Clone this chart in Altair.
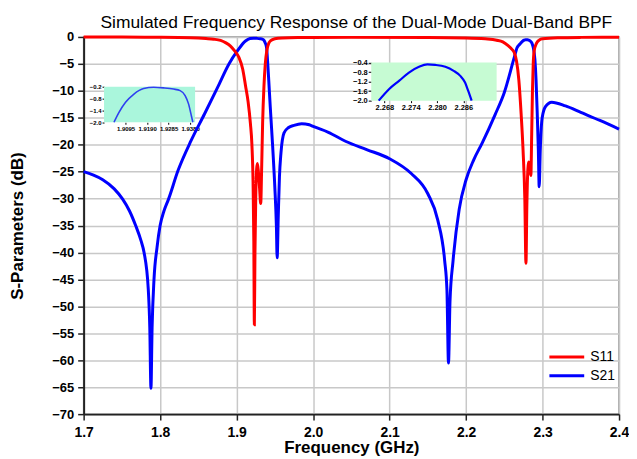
import altair as alt
import pandas as pd

# ---------------- data ----------------
s21_freq = [1.700, 1.712, 1.725, 1.740, 1.751, 1.760, 1.768, 1.775, 1.779, 1.7845, 1.7865, 1.788, 1.7895,
            1.792, 1.796, 1.800, 1.805, 1.811, 1.8234, 1.8406, 1.858, 1.875, 1.890, 1.901, 1.9116,
            1.9175, 1.922, 1.9263, 1.9307, 1.9336, 1.9358, 1.9373, 1.9392, 1.9405, 1.942, 1.944,
            1.947, 1.950, 1.952, 1.953, 1.9545, 1.956, 1.958, 1.962, 1.968, 1.975, 1.985, 1.995,
            2.000, 2.020, 2.043, 2.070, 2.100, 2.128, 2.150, 2.163, 2.172, 2.175, 2.177, 2.179,
            2.183, 2.191, 2.200, 2.210, 2.221, 2.238, 2.250, 2.263, 2.2667, 2.2691, 2.2714, 2.2736,
            2.2759, 2.2778, 2.2796, 2.2819, 2.2838, 2.2853, 2.2864, 2.2871, 2.2879, 2.290, 2.2915,
            2.293, 2.2945, 2.2956, 2.297, 2.2995, 2.304, 2.312, 2.330, 2.350, 2.375, 2.400]
s21_db = [-25.0, -25.6, -26.5, -28.2, -30.1, -32.3, -35.0, -37.8, -40.0, -46.8, -54.0, -65.2, -54.0,
          -45.0, -39.0, -35.0, -32.3, -30.1, -24.8, -19.2, -14.3, -9.4, -5.0, -2.6, -0.75,
          -0.29, -0.23, -0.26, -0.32, -0.40, -0.65, -1.07, -2.0, -4.5, -8.0, -13.0,
          -20.0, -28.0, -35.0, -41.0, -33.0, -26.0, -21.5, -17.8, -16.8, -16.4, -16.1, -16.3,
          -16.6, -17.7, -19.4, -20.9, -22.6, -25.3, -29.1, -34.0, -41.5, -47.0, -60.5, -49.0,
          -41.5, -32.0, -26.5, -22.8, -19.7, -14.4, -10.3, -3.8, -2.0, -1.51, -1.16, -0.82,
          -0.58, -0.50, -0.52, -0.58, -0.75, -0.96, -1.24, -1.58, -2.0, -4.2, -8.0,
          -14.0, -21.0, -27.8, -21.0, -15.0, -12.9, -12.1, -12.8, -14.0, -15.5, -17.1]

s11_freq = [1.700, 1.750, 1.800, 1.840, 1.860, 1.870, 1.879, 1.886, 1.892, 1.898, 1.903, 1.908,
            1.9116, 1.915, 1.918, 1.920, 1.9215, 1.9225, 1.9232, 1.924, 1.925, 1.9262, 1.9272,
            1.9285, 1.930, 1.9315, 1.9328, 1.934, 1.9358, 1.9375, 1.9395, 1.942, 1.9446, 1.950,
            1.960, 1.980, 2.050, 2.150, 2.200, 2.225, 2.240, 2.248, 2.255, 2.260, 2.263, 2.266,
            2.269, 2.272, 2.2745, 2.2768, 2.2783, 2.2795, 2.2808, 2.2818, 2.2832, 2.2847, 2.2858,
            2.2868, 2.2878, 2.289, 2.292, 2.2956, 2.300, 2.320, 2.350, 2.400]
s11_db = [-0.02, -0.03, -0.06, -0.15, -0.30, -0.42, -0.65, -1.1, -1.7, -2.7, -3.8, -6.0,
          -9.0, -12.0, -16.0, -20.0, -27.0, -38.0, -53.4, -40.0, -30.0, -24.5, -23.5,
          -25.0, -28.0, -30.9, -24.0, -16.0, -9.0, -5.0, -2.5, -1.2, -0.7, -0.35,
          -0.2, -0.12, -0.08, -0.10, -0.18, -0.35, -0.6, -0.9, -1.6, -2.3, -2.9, -4.5,
          -8.0, -14.3, -21.0, -30.0, -42.0, -31.0, -24.5, -23.2, -24.5, -25.7, -18.0,
          -10.0, -5.0, -2.6, -1.2, -0.6, -0.35, -0.15, -0.08, -0.05]

x_ticks = [1.7, 1.8, 1.9, 2.0, 2.1, 2.2, 2.3, 2.4]
y_ticks = [0, -5, -10, -15, -20, -25, -30, -35, -40, -45, -50, -55, -60, -65, -70]
series_names = ["S11", "S21"]
series_colors = ["#ff0000", "#0000ff"]

# inset 1 (first passband of S21)
inset1_freq = [1.9044, 1.9066, 1.9095, 1.9132, 1.9175, 1.9219, 1.9263, 1.9307, 1.9336, 1.9358,
               1.9373, 1.9387, 1.9392]
inset1_db = [-2.0, -1.50, -0.99, -0.57, -0.29, -0.23, -0.26, -0.32, -0.40, -0.65, -1.07, -1.75, -2.0]
inset1_xdomain = [1.900, 1.9402]
inset1_ydomain = [-2.0, -0.2]
inset1_xticks = [1.9095, 1.9190, 1.9285, 1.9380]
inset1_yticks = [-2.0, -1.4, -0.8, -0.2]

# inset 2 (second passband of S21)
inset2_freq = [2.2667, 2.2691, 2.2714, 2.2736, 2.2759, 2.2778, 2.2796, 2.2819, 2.2838, 2.2853,
               2.2864, 2.2871, 2.2879]
inset2_db = [-2.0, -1.51, -1.16, -0.82, -0.58, -0.48, -0.50, -0.58, -0.75, -0.96, -1.24, -1.58, -2.0]
inset2_xdomain = [2.265, 2.2936]
inset2_ydomain = [-2.0, -0.4]
inset2_xticks = [2.268, 2.274, 2.280, 2.286]
inset2_yticks = [-2.0, -1.6, -1.2, -0.8, -0.4]

# ---------------- layout ----------------
W, H = 538, 379
FONT = "Liberation Sans"

main_df = pd.concat([
    pd.DataFrame({"f": s21_freq, "db": s21_db, "series": "S21"}),
    pd.DataFrame({"f": s11_freq, "db": s11_db, "series": "S11"}),
], ignore_index=True)

main = alt.Chart(main_df).mark_line(strokeWidth=3, interpolate="monotone").encode(
    x=alt.X("f:Q",
            scale=alt.Scale(domain=[1.7, 2.4], nice=False, zero=False),
            axis=alt.Axis(orient="bottom", values=x_ticks, format=".1f", title="Frequency (GHz)",
                          grid=True, gridColor="#c8c8c8", gridWidth=1.5, labelFlush=False,
                          domainColor="#222222", domainWidth=2, tickColor="#222222", tickWidth=1.5,
                          tickSize=6, labelFont=FONT, labelFontSize=14, labelFontWeight="bold",
                          labelColor="black", labelPadding=5,
                          titleFont=FONT, titleFontSize=17, titleFontWeight="bold", titleColor="black",
                          titleX=W / 2, titleY=34, titleBaseline="middle")),
    y=alt.Y("db:Q",
            scale=alt.Scale(domain=[-70, 0], nice=False, zero=False),
            axis=alt.Axis(orient="left", values=y_ticks, format="d", title="S-Parameters (dB)",
                          grid=True, gridColor="#c8c8c8", gridWidth=1.5, labelFlush=False,
                          domainColor="#222222", domainWidth=2, tickColor="#222222", tickWidth=1.5,
                          tickSize=6, labelFont=FONT, labelFontSize=13, labelFontWeight="bold",
                          labelColor="black", labelPadding=4,
                          titleFont=FONT, titleFontSize=17, titleFontWeight="bold", titleColor="black",
                          titleX=-66, titleY=H / 2, titleBaseline="middle", titleAngle=270)),
    color=alt.Color("series:N",
                    scale=alt.Scale(domain=series_names, range=series_colors),
                    legend=alt.Legend(title=None, orient="none", legendX=478, legendY=314,
                                      symbolType="M-3,0H3", symbolSize=136, symbolStrokeWidth=3,
                                      symbolFillColor="transparent",
                                      labelFont=FONT, labelFontSize=14, labelColor="black",
                                      labelOffset=16, rowPadding=4, padding=0)),
)


def make_inset(freqs, dbs, xdom, ydom, xticks, yticks, xrange, yrange, bg, line_color, line_w,
               font_size, fmt_x, fmt_y, tick_y):
    bg_df = pd.DataFrame({"f": [xdom[0]], "f2": [xdom[1]], "db": [ydom[0]], "db2": [ydom[1]]})
    line_df = pd.DataFrame({"f": freqs, "db": dbs})
    xs = alt.X("f:Q", scale=alt.Scale(domain=xdom, range=xrange, nice=False, zero=False),
               axis=alt.Axis(orient="bottom", offset=-(H - yrange[0]), values=xticks, format=fmt_x,
                             title=None, grid=False, domain=False, tickColor="black", tickSize=2,
                             labelFlush=False, labelOverlap=False,
                             labelFont=FONT, labelFontSize=font_size, labelFontWeight="bold",
                             labelColor="black", labelPadding=1))
    ys = alt.Y("db:Q", scale=alt.Scale(domain=ydom, range=yrange, nice=False, zero=False),
               axis=alt.Axis(orient="left", offset=-xrange[0], values=yticks, format=fmt_y,
                             title=None, grid=False, domain=False, tickColor="black", tickSize=tick_y,
                             labelFlush=False, labelOverlap=False,
                             labelFont=FONT, labelFontSize=font_size, labelFontWeight="bold",
                             labelColor="black", labelPadding=1))
    rect = alt.Chart(bg_df).mark_rect(color=bg).encode(x=xs, x2="f2:Q", y=ys, y2="db2:Q")
    line = alt.Chart(line_df).mark_line(color=line_color, strokeWidth=line_w,
                                        interpolate="monotone").encode(x="f:Q", y="db:Q")
    return alt.layer(rect, line)


inset1 = make_inset(inset1_freq, inset1_db, inset1_xdomain, inset1_ydomain, inset1_xticks,
                    inset1_yticks, [20.5, 112.0], [85.7, 50.0], "#aaf6dc", "#2f3ff0", 1.6,
                    6, ".4f", ".1f", 2)
inset2 = make_inset(inset2_freq, inset2_db, inset2_xdomain, inset2_ydomain, inset2_xticks,
                    inset2_yticks, [289.0, 415.0], [64.0, 25.7], "#c6fbd3", "#0000ff", 2.2,
                    7.5, ".3f", ".1f", 3)

chart = alt.layer(main, inset1, inset2).resolve_scale(
    x="independent", y="independent"
).properties(
    width=W, height=H,
    title=alt.TitleParams(text="Simulated Frequency Response of the Dual-Mode Dual-Band BPF",
                          font=FONT, fontSize=17.5, fontWeight="normal", color="black",
                          anchor="middle", frame="group", offset=2, dx=5, dy=3),
    padding={"left": 76, "top": 28, "right": 10, "bottom": 44},
    autosize=alt.AutoSizeParams(type="none"),
).configure_view(stroke="#8c8c8c", strokeWidth=1.5)

chart.save("out.html", embed_options={"renderer": "svg", "actions": False})
